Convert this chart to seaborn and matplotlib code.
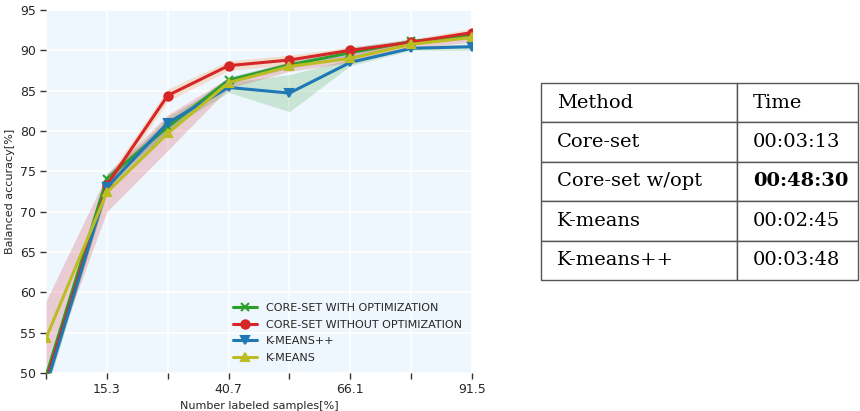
import numpy as np
import pandas as pd
import matplotlib
matplotlib.use("Agg")
import matplotlib.pyplot as plt
import seaborn as sns

# ---- data ----
x_vals = [2.6, 15.3, 28.0, 40.7, 53.4, 66.1, 78.8, 91.5]
x_tick_labels = ["", "15.3", "", "40.7", "", "66.1", "", "91.5"]
series_names = ["CORE-SET WITH OPTIMIZATION", "CORE-SET WITHOUT OPTIMIZATION", "K-MEANS++", "K-MEANS"]

coreset_opt = [49.6, 74.1, 80.5, 86.3, 88.2, 89.7, 91.1, 91.8]
coreset_opt_lo = [48.9, 73.4, 79.9, 85.9, 87.8, 89.2, 90.8, 91.4]
coreset_opt_hi = [50.4, 74.8, 81.2, 86.7, 88.6, 90.4, 91.4, 92.2]

coreset_noopt = [49.0, 73.3, 84.4, 88.1, 88.8, 90.0, 91.0, 92.2]
coreset_noopt_lo = [48.0, 72.4, 83.7, 87.5, 88.2, 89.6, 90.6, 91.7]
coreset_noopt_hi = [50.0, 74.2, 85.2, 88.7, 89.4, 90.4, 91.4, 92.7]

kmeanspp = [48.4, 73.0, 81.0, 85.4, 84.7, 88.5, 90.25, 90.45]
kmeanspp_lo = [47.6, 72.2, 80.2, 84.8, 82.4, 88.1, 90.0, 90.0]
kmeanspp_hi = [49.2, 73.8, 81.8, 86.0, 87.0, 88.9, 90.5, 90.8]

kmeans = [54.3, 72.4, 79.7, 86.0, 88.0, 89.0, 90.75, 91.6]
kmeans_lo = [49.5, 70.0, 77.6, 85.3, 87.4, 88.5, 90.3, 91.0]
kmeans_hi = [58.9, 74.6, 82.0, 86.6, 88.5, 89.5, 91.2, 92.2]

table_header = ["Method", "Time"]
table_methods = ["Core-set", "Core-set w/opt", "K-means", "K-means++"]
table_times = ["00:03:13", "00:48:30", "00:02:45", "00:03:48"]

means = [coreset_opt, coreset_noopt, kmeanspp, kmeans]
lows = [coreset_opt_lo, coreset_noopt_lo, kmeanspp_lo, kmeans_lo]
highs = [coreset_opt_hi, coreset_noopt_hi, kmeanspp_hi, kmeans_hi]

line_colors = ["#2ca02c", "#d62728", "#1f77b4", "#bcbd22"]
band_colors = ["#1f77b4", "#ff7f0e", "#2ca02c", "#d62728"]
markers = ["x", "o", "v", "^"]

sns.set_theme(style="white")
plt.rcParams["font.family"] = ["DejaVu Sans"]

fig = plt.figure(figsize=(8.6, 4.11), dpi=100)
ax = fig.add_axes([46 / 860, 1 - 373 / 411, (472 - 46) / 860, (373 - 10) / 411])
ax.set_facecolor("#eef6fe")

for i in range(4):
    ax.fill_between(x_vals, lows[i], highs[i], color=band_colors[i], alpha=0.2, linewidth=0)
for i in range(4):
    sns.lineplot(x=x_vals, y=means[i], ax=ax, color=line_colors[i], marker=markers[i],
                 markersize=6, markeredgecolor=line_colors[i], markeredgewidth=1.5,
                 linewidth=2.2, label=series_names[i])

ax.set_xlim(x_vals[0], x_vals[-1])
ax.set_ylim(50, 95)
ax.set_xticks(x_vals)
ax.set_xticklabels(x_tick_labels)
ax.set_yticks(np.arange(50, 96, 5))
ax.grid(True, color="white", linewidth=1.2)
ax.set_axisbelow(True)
for s in ax.spines.values():
    s.set_visible(False)
ax.tick_params(axis="both", which="major", length=4, width=1, color="#333333",
               labelsize=9, bottom=True, left=True, pad=3)
ax.set_xlabel("Number labeled samples[%]", fontsize=8)
ax.set_ylabel("Balanced accuracy[%]", fontsize=8)
ax.legend(loc="lower right", frameon=False, fontsize=8, borderaxespad=0.5,
          handlelength=2.2, labelspacing=0.6)

# ---- table ----
tax = fig.add_axes([541 / 860, 1 - 280 / 411, (858 - 541) / 860, (280 - 83) / 411])
tax.axis("off")
cell_text = [table_header] + [[m, t] for m, t in zip(table_methods, table_times)]
tbl = tax.table(cellText=cell_text, bbox=[0, 0, 1, 1], colWidths=[0.618, 0.382],
                cellLoc="left")
tbl.auto_set_font_size(False)
for (r, c), cell in tbl.get_celld().items():
    cell.set_edgecolor("#555555")
    cell.set_linewidth(1.0)
    cell.PAD = 0.08 if c == 0 else 0.13
    txt = cell.get_text()
    txt.set_fontsize(14)
    txt.set_fontfamily("DejaVu Serif")
    txt.set_color("black")
    if r == 2 and c == 1:
        txt.set_fontweight("bold")

fig.savefig("out.png", dpi=100)
